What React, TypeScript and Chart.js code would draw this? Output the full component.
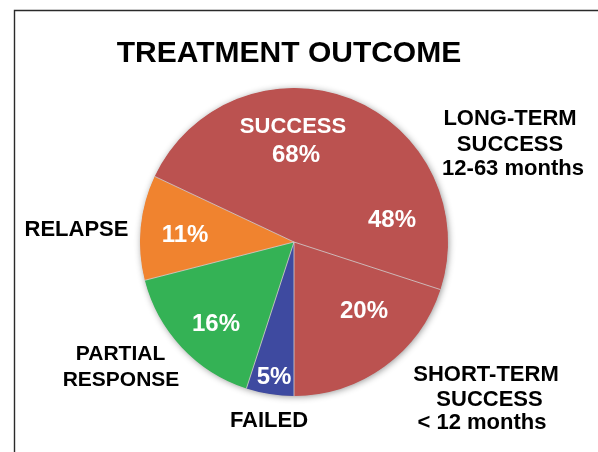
import React, { useEffect, useRef } from "react";
import { Chart, registerables } from "chart.js";

Chart.register(...registerables);

const categories = ["SHORT-TERM SUCCESS", "FAILED", "PARTIAL RESPONSE", "RELAPSE", "LONG-TERM SUCCESS"];
const values = [20, 5, 16, 11, 48];
const colors = ["#bb5250", "#3e4aa0", "#34b255", "#f0832f", "#bb5250"];
const titleText = "TREATMENT OUTCOME";

const FONT = '"Liberation Sans", Arial, sans-serif';

const labelPlugin = {
  id: "labels",
  beforeDatasetsDraw(chart: any) {
    const arc = chart.getDatasetMeta(0).data[0];
    if (!arc) return;
    const ctx = chart.ctx;
    ctx.save();
    ctx.shadowColor = "rgba(0,0,0,0.45)";
    ctx.shadowBlur = 7;
    ctx.shadowOffsetX = 1;
    ctx.shadowOffsetY = 1;
    ctx.fillStyle = colors[0];
    ctx.beginPath();
    ctx.arc(arc.x, arc.y, arc.outerRadius - 0.5, 0, Math.PI * 2);
    ctx.fill();
    ctx.restore();
  },
  afterDatasetsDraw(chart: any) {
    const meta = chart.getDatasetMeta(0);
    const arcs = meta.data;
    const ctx = chart.ctx;
    const cx = arcs[0].x;
    const cy = arcs[0].y;
    const r = arcs[0].outerRadius;

    // separators
    ctx.save();
    ctx.strokeStyle = "rgba(210,210,210,0.8)";
    ctx.lineWidth = 1;
    arcs.forEach((a: any) => {
      ctx.beginPath();
      ctx.moveTo(cx, cy);
      ctx.lineTo(cx + Math.cos(a.startAngle) * r, cy + Math.sin(a.startAngle) * r);
      ctx.stroke();
    });
    ctx.restore();

    // frame
    ctx.save();
    ctx.strokeStyle = "#2a2a2a";
    ctx.lineWidth = 1.4;
    ctx.beginPath();
    ctx.moveTo(14.5, 452);
    ctx.lineTo(14.5, 10.5);
    ctx.lineTo(598, 10.5);
    ctx.stroke();
    ctx.restore();

    const text = (s: string, x: number, yc: number, size: number, color: string) => {
      ctx.font = `bold ${size}px ${FONT}`;
      ctx.fillStyle = color;
      ctx.textAlign = "center";
      ctx.textBaseline = "alphabetic";
      ctx.fillText(s, x, yc + 0.358 * size);
    };

    ctx.save();
    // title
    text(titleText, 289, 51, 30, "#000");

    const W = "#ffffff";
    const total = values[0] + values[4];
    text("SUCCESS", cx - 1, cy - 117, 22, W);
    text(`${total}%`, cx + 2, cy - 89, 24, W);
    text(`${values[4]}%`, cx + 98, cy - 24, 24, W);
    text(`${values[0]}%`, cx + 70, cy + 67, 24, W);
    text(`${values[3]}%`, cx - 109, cy - 9, 24, W);
    text(`${values[2]}%`, cx - 78, cy + 80, 24, W);
    text(`${values[1]}%`, cx - 20, cy + 133, 24, W);

    const B = "#000000";
    text("LONG-TERM", 510, 117, 22, B);
    text("SUCCESS", 510, 143, 22, B);
    text("12-63 months", 513, 167, 22, B);
    text("RELAPSE", 76.5, 228, 22, B);
    text("PARTIAL", 120.5, 352, 21, B);
    text("RESPONSE", 121, 378, 21, B);
    text("FAILED", 269, 419, 22, B);
    text("SHORT-TERM", 486, 373, 22, B);
    text("SUCCESS", 489.5, 398, 22, B);
    text("< 12 months", 482, 421, 22, B);
    ctx.restore();
  },
};

export default function App() {
  const ref = useRef<HTMLCanvasElement | null>(null);
  useEffect(() => {
    if (!ref.current) return;
    const chart = new Chart(ref.current, {
      type: "pie",
      data: {
        labels: categories,
        datasets: [
          {
            data: values,
            backgroundColor: colors,
            borderWidth: 0,
          },
        ],
      },
      options: {
        animation: false,
        responsive: false,
        rotation: 108,
        layout: { padding: { left: 140, right: 150, top: 88, bottom: 56 } },
        plugins: {
          legend: { display: false },
          tooltip: { enabled: false },
          title: { display: false },
        },
      },
      plugins: [labelPlugin],
    });
    return () => chart.destroy();
  }, []);
  return (
    <div style={{ position: "fixed", left: 0, top: 0, width: 598, height: 452, background: "#fff" }}>
      <canvas ref={ref} width={598} height={452} style={{ display: "block" }} />
    </div>
  );
}
